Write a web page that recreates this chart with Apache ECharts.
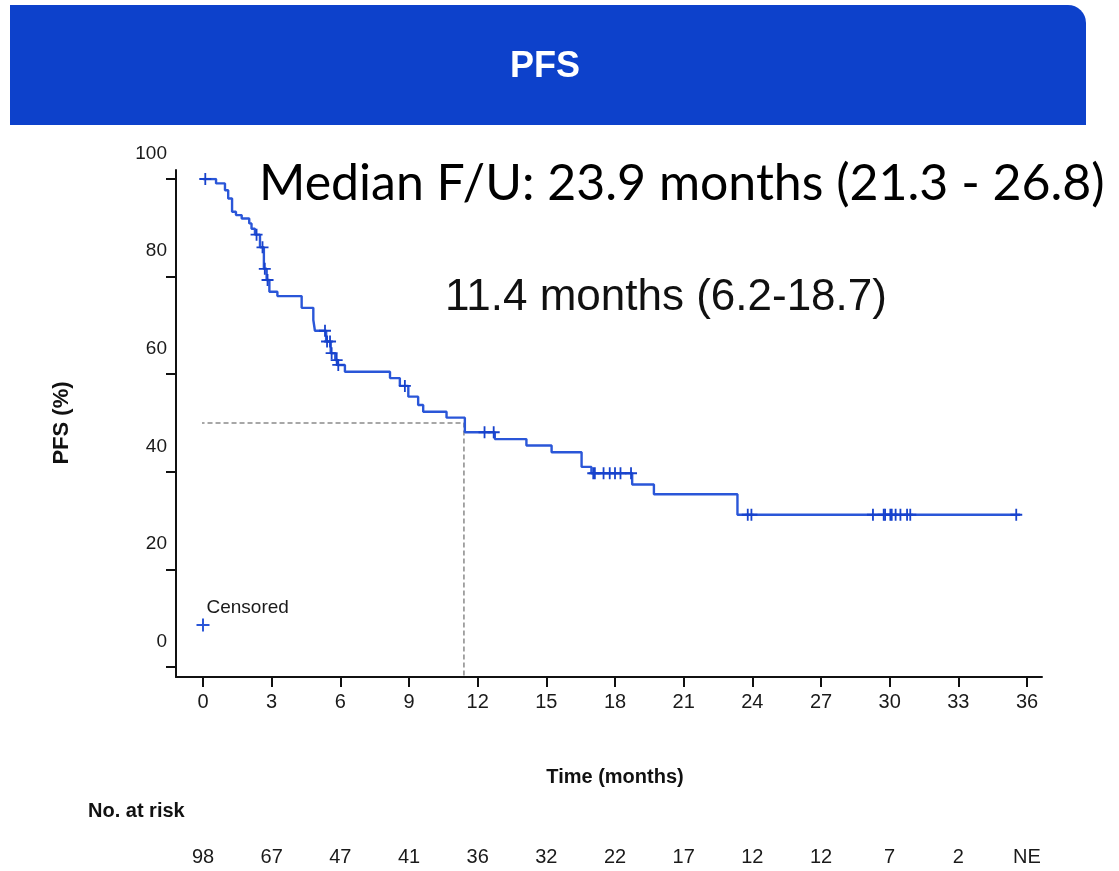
<!DOCTYPE html>
<html>
<head>
<meta charset="utf-8">
<script src="https://cdn.jsdelivr.net/npm/echarts@6/dist/echarts.min.js"></script>
<style>
html,body{margin:0;padding:0;background:#fff;}
#chart{width:1119px;height:871px;}
</style>
</head>
<body>
<div id="chart"></div>
<script>
// ---- data ----
var kmTimes = [0, 0.57, 0.96, 1.1, 1.27, 1.44, 1.69, 2.02, 2.12, 2.27, 2.49, 2.66, 2.78, 2.9, 3.25, 4.31, 4.82, 4.89, 5.38, 5.58, 5.78, 5.88, 6.2, 8.17, 8.6, 8.97, 9.4, 9.62, 10.64, 11.44, 12.75, 14.13, 15.23, 16.54, 16.97, 18.75, 19.7, 23.35, 35.7];
var kmSurv  = [100, 99.1, 97.7, 96.0, 93.3, 92.6, 91.9, 90.9, 89.8, 88.6, 86.0, 81.6, 79.3, 76.9, 76.0, 73.6, 71.1, 68.9, 66.7, 64.3, 62.9, 61.9, 60.5, 59.2, 57.6, 55.4, 53.7, 52.3, 51.1, 48.1, 46.7, 45.4, 44.0, 41.0, 39.7, 37.4, 35.4, 31.2, 31.2];
var censorTimes = [0.1, 2.34, 2.6, 2.7, 2.82, 5.33, 5.42, 5.55, 5.62, 5.84, 5.91, 8.82, 12.3, 12.7, 17.05, 17.12, 17.5, 17.77, 18.0, 18.24, 18.7, 23.8, 23.96, 29.27, 29.74, 29.8, 30.03, 30.09, 30.26, 30.47, 30.76, 30.9, 35.53];
var xTicks = [0, 3, 6, 9, 12, 15, 18, 21, 24, 27, 30, 33, 36];
var yTicks = [0, 20, 40, 60, 80, 100];
var atRisk = ['98', '67', '47', '41', '36', '32', '22', '17', '12', '12', '7', '2', 'NE'];
var medianTime = 11.4;
var medianSurv = 50;
var legendKey = [0, 8.6];

var SANS = "'Liberation Sans', Arial, sans-serif";
var plusPath = 'path://M5.1,0H6.9V12H5.1ZM0,5.1H12V6.9H0Z';

function survAt(t) {
  var s = kmSurv[0];
  for (var i = 0; i < kmTimes.length; i++) { if (kmTimes[i] <= t) s = kmSurv[i]; }
  return s;
}
var kmData = kmTimes.map(function (t, i) { return [t, kmSurv[i]]; });
var censorData = censorTimes.map(function (t) { return [t, survAt(t)]; });

var chart = echarts.init(document.getElementById('chart'), null, {renderer: 'canvas'});
var axisCol = '#111';
var txtCol = '#1a1a1a';
chart.setOption({
  animation: false,
  backgroundColor: '#fff',
  graphic: [
    {type: 'rect', shape: {x: 10, y: 5, width: 1076, height: 120, r: [0, 18, 0, 0]}, style: {fill: '#0D41CB'}, z: 0},
    {type: 'text', x: 545, y: 67, style: {text: 'PFS', fill: '#fff', font: 'bold 36px ' + SANS, textAlign: 'center', textVerticalAlign: 'middle'}},
    {type: 'text', x: 259, y: 184, style: {text: 'Median F/U: 23.9 months (21.3 - 26.8)', fill: '#000', font: '50px Lato, sans-serif', textAlign: 'left', textVerticalAlign: 'middle'}},
    {type: 'text', x: 666, y: 298, style: {text: '11.4 months (6.2-18.7)', fill: '#111', font: '44px ' + SANS, textAlign: 'center', textVerticalAlign: 'middle'}},
    {type: 'text', x: 88, y: 811, style: {text: 'No. at risk', fill: '#111', font: 'bold 20px ' + SANS, textAlign: 'left', textVerticalAlign: 'middle'}}
  ],
  grid: [
    {left: 176, right: 77, top: 170, bottom: 194, show: false},
    {left: 203, right: 92, top: 179, bottom: 204, show: false}
  ],
  xAxis: [
    {gridIndex: 0, type: 'value', min: 0, max: 1, axisLine: {show: true, onZero: false, lineStyle: {color: axisCol, width: 2}}, axisTick: {show: false}, axisLabel: {show: false}, splitLine: {show: false}},
    {gridIndex: 1, type: 'value', min: 0, max: 36, interval: 3, offset: 10,
      name: 'Time (months)', nameLocation: 'middle', nameGap: 90,
      nameTextStyle: {fontFamily: SANS, fontWeight: 'bold', fontSize: 20, color: '#111'},
      axisLine: {show: false, onZero: false}, axisTick: {show: true, length: 10, lineStyle: {color: axisCol, width: 2}},
      axisLabel: {margin: 15, fontFamily: SANS, fontSize: 20, color: txtCol}, splitLine: {show: false}},
    {gridIndex: 1, type: 'value', min: 0, max: 36, interval: 3, offset: 172, position: 'bottom',
      axisLine: {show: false, onZero: false}, axisTick: {show: false}, splitLine: {show: false},
      axisLabel: {margin: 8, fontFamily: SANS, fontSize: 20, color: txtCol,
        formatter: function (v) { var i = xTicks.indexOf(v); return i >= 0 ? atRisk[i] : ''; }}}
  ],
  yAxis: [
    {gridIndex: 0, type: 'value', min: 0, max: 1, axisLine: {show: true, onZero: false, lineStyle: {color: axisCol, width: 2}}, axisTick: {show: false}, axisLabel: {show: false}, splitLine: {show: false}},
    {gridIndex: 1, type: 'value', min: 0, max: 100, interval: 20, offset: 27,
      name: 'PFS (%)', nameLocation: 'middle', nameGap: 103,
      nameTextStyle: {fontFamily: SANS, fontWeight: 'bold', fontSize: 22, color: '#111'},
      axisLine: {show: false, onZero: false}, axisTick: {show: true, length: 10, lineStyle: {color: axisCol, width: 2}},
      axisLabel: {margin: 9, fontFamily: SANS, fontSize: 19, color: txtCol, verticalAlign: 'bottom', padding: [0, 0, 16, 0]},
      splitLine: {show: false}}
  ],
  series: [
    {name: 'median', type: 'line', xAxisIndex: 1, yAxisIndex: 1, clip: false, silent: true, symbol: 'none',
      data: [[-1.2, medianSurv], [medianTime, medianSurv], [medianTime, -2]],
      lineStyle: {color: '#8a8a8a', width: 1.5, type: [5, 3]}, z: 1},
    {name: 'PFS', type: 'line', step: 'end', xAxisIndex: 1, yAxisIndex: 1, symbol: 'none', data: kmData,
      lineStyle: {color: '#2a56d8', width: 2.4}, z: 3},
    {name: 'Censored', type: 'scatter', xAxisIndex: 1, yAxisIndex: 1, symbol: plusPath, symbolSize: 12,
      itemStyle: {color: '#1742cc', opacity: 1}, data: censorData, z: 4},
    {name: 'Censored key', type: 'scatter', xAxisIndex: 1, yAxisIndex: 1, symbol: plusPath, symbolSize: 13,
      itemStyle: {color: '#2a56d8', opacity: 1}, data: [legendKey], z: 4,
      label: {show: true, position: [10, -20], formatter: 'Censored', fontFamily: SANS, fontSize: 19, color: txtCol, opacity: 1, verticalAlign: 'top', align: 'left'}}
  ]
});
</script>
</body>
</html>
